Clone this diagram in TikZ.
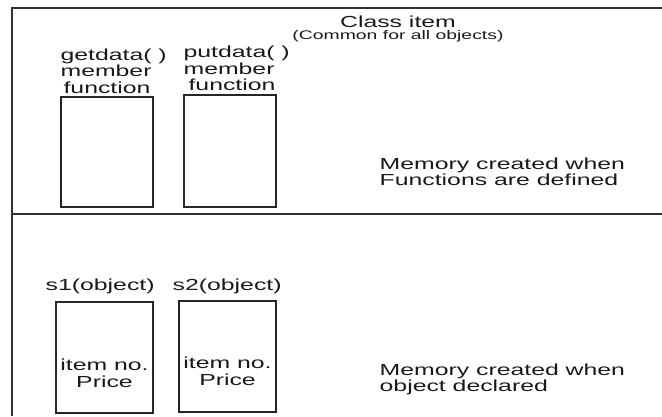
\documentclass[tikz,border=0pt]{standalone}
\usepackage{fontspec}
\setmainfont{Liberation Sans}[FakeStretch=1.55]
\usetikzlibrary{positioning}

\tikzset{
  frameline/.style={line width=1.6pt, draw=black!80},
  membox/.style={draw=black!85, line width=1.2pt, inner sep=0pt},
  lbl/.style={font=\fontsize{16}{16.5}\selectfont, inner sep=0pt, text=black!90},
  smalllbl/.style={font=\fontsize{12.5}{13}\selectfont, inner sep=0pt, text=black!90}
}

\begin{document}
\begin{tikzpicture}[x=1pt, y=-1pt]
            \useasboundingbox (0,0) rectangle (662,416);
            % frame and divider
            \draw[frameline] (662,8) -- (12,8) -- (12,416);
            \draw[frameline] (12,214) -- (662,214);

            % class part
            \node[lbl, anchor=base] (cls) at (398,27.3) {Class item};
            \node[smalllbl, anchor=base] (common) at (398,39.5) {(Common for all objects)};
            \node[membox, minimum width=92pt, minimum height=110pt] (fget) at (107,152) {};
            \node[membox, minimum width=92pt, minimum height=112pt] (fput) at (230,151) {};
            \node[lbl, align=left, above right=3pt and 0pt of fget.north west] (getlbl) {getdata( )\\member\\\hspace*{3pt}function};
            \node[lbl, align=left, above right=3.3pt and 0pt of fput.north west] (putlbl) {putdata( )\\member\\\hspace*{5pt}function};
            \node[lbl, align=left, anchor=north west] (memfn) at (379.5,157.6) {Memory created when\\Functions are defined};

            % object part
            \node[lbl, anchor=base west] (s1lbl) at (45.5,290.3) {s1(object)};
            \node[lbl, anchor=base west] (s2lbl) at (172.5,290.3) {s2(object)};
            \node[membox, minimum width=97pt, minimum height=111pt] (obj1) at (104.5,357.5) {};
            \node[membox, minimum width=97pt, minimum height=111pt] (obj2) at (227.5,356.5) {};
            \node[lbl, align=center, anchor=north] (obj1txt) at (104.5,359) {item no.\\Price};
            \node[lbl, align=center, anchor=north] (obj2txt) at (227.5,357) {item no.\\Price};
            \node[lbl, align=left, anchor=north west] (memobj) at (379.5,363.6) {Memory created when\\object declared};
\end{tikzpicture}
\end{document}
